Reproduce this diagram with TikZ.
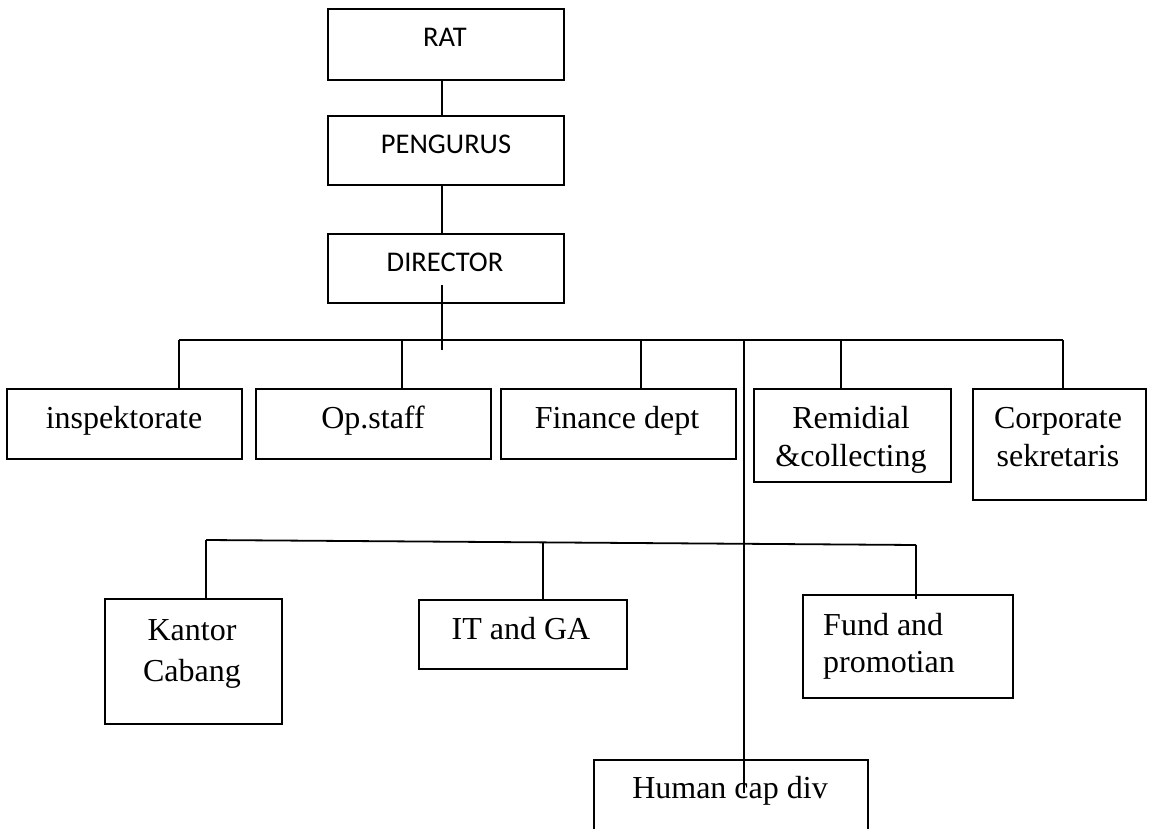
\documentclass[tikz,border=0pt]{standalone}
\usepackage{fontspec}
\setmainfont{Liberation Serif}
\newfontfamily\calib{Carlito}
\begin{document}
\begin{tikzpicture}[x=1pt,y=-1pt,
  box/.style={draw, line width=1.8pt, inner sep=0pt, anchor=north west, rectangle},
  lnk/.style={line width=1.8pt},
  sans/.style={font=\calib\fontsize{28.5}{34}\selectfont, anchor=base, inner sep=0pt},
  serif/.style={font=\fontsize{32}{40}\selectfont, anchor=base, inner sep=0pt}]
\useasboundingbox (0,0) rectangle (1149,829);
\fill[white] (0,0) rectangle (1149,829);
\clip (0,0) rectangle (1149,829);
% boxes
\node[box, minimum width=236pt, minimum height=71pt] (rat) at (327,8) {};
\node[box, minimum width=236pt, minimum height=69pt] (peng) at (327,115) {};
\node[box, minimum width=236pt, minimum height=69pt] (dir) at (327,233) {};
\node[box, minimum width=235pt, minimum height=70pt] (insp) at (6,388) {};
\node[box, minimum width=235pt, minimum height=70pt] (ops) at (255,388) {};
\node[box, minimum width=235pt, minimum height=70pt] (fin) at (500,388) {};
\node[box, minimum width=197pt, minimum height=93pt] (rem) at (753,388) {};
\node[box, minimum width=173pt, minimum height=111pt] (corp) at (972,388) {};
\node[box, minimum width=177pt, minimum height=125pt] (kan) at (104,598) {};
\node[box, minimum width=208pt, minimum height=69pt] (itga) at (418,599) {};
\node[box, minimum width=210pt, minimum height=103pt] (fund) at (802,594) {};
\node[box, minimum width=274pt, minimum height=100pt] (hcap) at (593,759) {};
% texts
\node[sans] (ratT) at (445,47) {RAT};
\node[sans] (pengT) at (446,154) {PENGURUS};
\node[sans] (dirT) at (445,272) {DIRECTOR};
\node[serif] (inspT) at (124,428) {inspektorate};
\node[serif] (opsT) at (373,428) {Op.staff};
\node[serif] (finT) at (617,428) {Finance dept};
\node[serif, align=center, font=\fontsize{32}{38}\selectfont] (remT) at (851,466) {Remidial\\\&collecting};
\node[serif, align=center, font=\fontsize{32}{38}\selectfont] (corpT) at (1058,466) {Corporate\\sekretaris};
\node[serif, align=center, font=\fontsize{32}{41}\selectfont] (kanT) at (192,681) {Kantor\\Cabang};
\node[serif] (itgaT) at (521,639) {IT and GA};
\node[serif, align=left, anchor=base west, font=\fontsize{32}{37}\selectfont] (fundT) at (823,672) {Fund and\\promotian};
\node[serif] (hcapT) at (730,798) {Human cap div};
% connectors
\draw[lnk] ([xshift=-4pt]rat.south) -- ([xshift=-4pt]peng.north);
\draw[lnk] ([xshift=-4pt]peng.south) -- ([xshift=-4pt]dir.north);
\draw[lnk] ([xshift=-4pt,yshift=19pt]dir.south) -- ++(0,65);
\coordinate (b1) at (179,340);
\coordinate (b2) at (402,340);
\coordinate (b3) at (641,340);
\coordinate (b4) at (841,340);
\coordinate (b5) at (1063,340);
\coordinate (bm) at (744,340);
\draw[lnk] (b1) -- (b5);
\foreach \c/\n in {b1/insp,b2/ops,b3/fin,b4/rem,b5/corp}
  \draw[lnk] (\c) -- (\c |- \n.north);
\draw[lnk] (bm) -- (bm |- hcap.north) -- ++(0,34);
\coordinate (l1) at (206,540);
\coordinate (l2) at (543,542.4);
\coordinate (l3) at (916,545);
\draw[lnk] (l1) -- (l3);
\draw[lnk] (l1) -- (l1 |- kan.north);
\draw[lnk] (l2) -- (l2 |- itga.north);
\draw[lnk] (l3) -- ([yshift=-5pt]l3 |- fund.north);
\end{tikzpicture}
\end{document}
